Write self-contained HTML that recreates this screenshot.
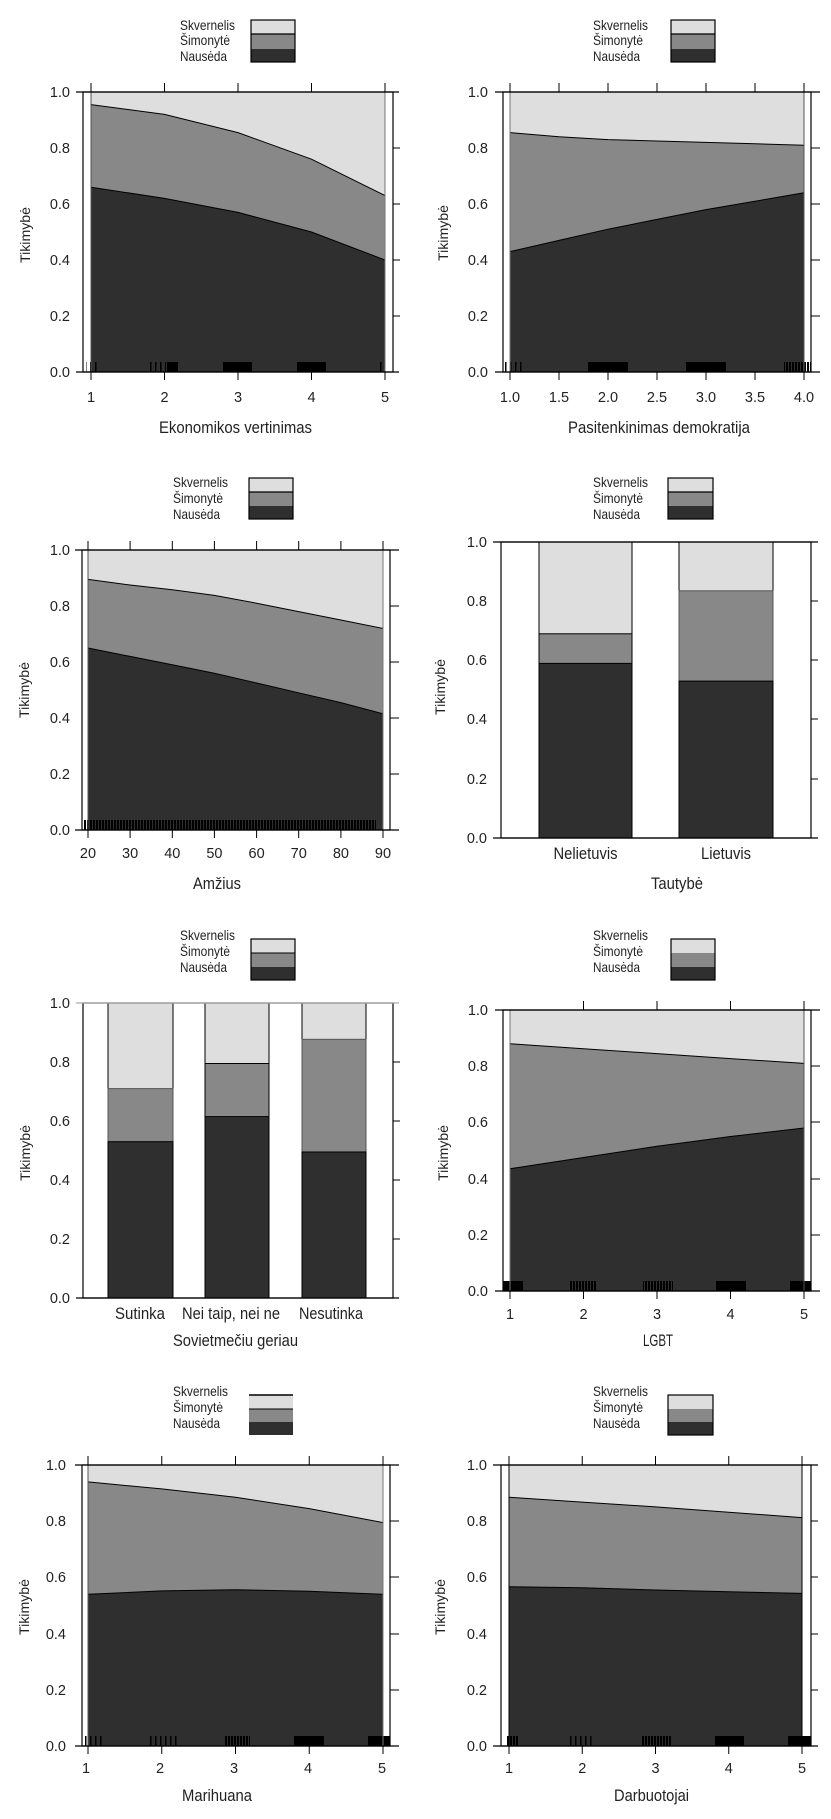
<!DOCTYPE html>
<html><head><meta charset="utf-8"><style>
body{margin:0;background:#fff}
svg{display:block}
.t{font-family:"Liberation Sans",sans-serif;font-size:14.5px;fill:#222}
.c{font-family:"Liberation Sans Narrow","Liberation Sans",sans-serif;fill:#222}
.lg{font-size:14px}
.ax{font-size:17px}
</style></head><body>
<svg width="831" height="1819" viewBox="0 0 831 1819" xmlns="http://www.w3.org/2000/svg">
<defs>
<pattern id="st" width="3" height="10" patternUnits="userSpaceOnUse"><rect width="2" height="10" fill="#000"/></pattern>
<pattern id="st2" width="5" height="10" patternUnits="userSpaceOnUse"><rect width="1.5" height="10" fill="#000"/></pattern>
</defs>

<!-- ===== P1 ===== -->
<g>
<rect x="91" y="92" width="294" height="280" fill="#dedede"/>
<polygon points="91,104.6 164.5,114.4 238,132.6 311.5,159.2 385,195.6 385,372 91,372" fill="#888"/>
<polygon points="91,187.2 164.5,198.4 238,212.4 311.5,232 385,260 385,372 91,372" fill="#2f2f2f"/>
<polyline points="91,104.6 164.5,114.4 238,132.6 311.5,159.2 385,195.6" fill="none" stroke="#000" stroke-width="1"/>
<polyline points="91,187.2 164.5,198.4 238,212.4 311.5,232 385,260" fill="none" stroke="#000" stroke-width="1"/>
<rect x="148" y="362" width="18" height="10" fill="url(#st2)"/><rect x="167" y="362" width="11" height="10" fill="#000"/>
<rect x="223" y="362" width="29" height="10" fill="#000"/><rect x="297" y="362" width="29" height="10" fill="#000"/>
<rect x="86" y="362" width="14" height="10" fill="url(#st2)"/><rect x="380" y="362" width="5" height="10" fill="url(#st2)"/>
<line x1="91" y1="92" x2="91" y2="372" stroke="#555"/><line x1="385" y1="92" x2="385" y2="372" stroke="#777"/>
<rect x="83" y="92" width="310" height="280" fill="none" stroke="#000" stroke-width="1.2"/>
<line x1="76" y1="92" x2="399" y2="92" stroke="#000" stroke-width="1.2"/><line x1="76" y1="372" x2="399" y2="372" stroke="#000" stroke-width="1.2"/>
<path d="M393,148h7M393,204h7M393,260h7M393,316h7M91,92v-9M164.5,92v-9M238,92v-9M311.5,92v-9M385,92v-9M91,372v8M164.5,372v8M238,372v8M311.5,372v8M385,372v8" stroke="#000"/>
<text class="t" text-anchor="end" x="70" y="97">1.0</text><text class="t" text-anchor="end" x="70" y="153">0.8</text><text class="t" text-anchor="end" x="70" y="209">0.6</text><text class="t" text-anchor="end" x="70" y="265">0.4</text><text class="t" text-anchor="end" x="70" y="321">0.2</text><text class="t" text-anchor="end" x="70" y="377">0.0</text>
<text class="t" text-anchor="middle" x="91" y="402">1</text><text class="t" text-anchor="middle" x="164.5" y="402">2</text><text class="t" text-anchor="middle" x="238" y="402">3</text><text class="t" text-anchor="middle" x="311.5" y="402">4</text><text class="t" text-anchor="middle" x="385" y="402">5</text>
<text class="c ax" x="159" y="433" textLength="153" lengthAdjust="spacingAndGlyphs">Ekonomikos vertinimas</text>
<text class="c" font-size="14" transform="translate(30,235) rotate(-90)" text-anchor="middle" textLength="56" lengthAdjust="spacingAndGlyphs">Tikimybė</text>
<text class="c lg" x="180" y="30" textLength="55" lengthAdjust="spacingAndGlyphs">Skvernelis</text><text class="c lg" x="180" y="45" textLength="50" lengthAdjust="spacingAndGlyphs">Šimonytė</text><text class="c lg" x="180" y="61" textLength="47" lengthAdjust="spacingAndGlyphs">Nausėda</text>
<rect x="251" y="20" width="44" height="14" fill="#dedede"/><rect x="251" y="34" width="44" height="15" fill="#888"/><rect x="251" y="49" width="44" height="13" fill="#2f2f2f"/>
<rect x="251" y="20" width="44" height="42" fill="none" stroke="#000" stroke-width="1.2"/><line x1="251" y1="34" x2="295" y2="34" stroke="#000" stroke-width="1.2"/>
</g>

<!-- ===== P2 ===== -->
<g>
<rect x="510" y="92" width="294" height="280" fill="#dedede"/>
<polygon points="510,132.6 559,136.8 608,139.6 657,141 706,142.4 755,143.8 804,145.2 804,372 510,372" fill="#888"/>
<polygon points="510,251.6 559,240.4 608,229.2 657,219.4 706,209.6 755,201.2 804,192.8 804,372 510,372" fill="#2f2f2f"/>
<polyline points="510,132.6 559,136.8 608,139.6 657,141 706,142.4 755,143.8 804,145.2" fill="none" stroke="#000"/>
<polyline points="510,251.6 559,240.4 608,229.2 657,219.4 706,209.6 755,201.2 804,192.8" fill="none" stroke="#000"/>
<rect x="503" y="362" width="22" height="10" fill="url(#st2)"/><rect x="588" y="362" width="40" height="10" fill="#000"/><rect x="686" y="362" width="40" height="10" fill="#000"/><rect x="784" y="362" width="27" height="10" fill="url(#st)"/>
<line x1="510" y1="92" x2="510" y2="372" stroke="#777"/><line x1="804" y1="92" x2="804" y2="372" stroke="#555"/>
<rect x="503" y="92" width="308" height="280" fill="none" stroke="#000" stroke-width="1.2"/>
<line x1="495" y1="92" x2="820" y2="92" stroke="#000" stroke-width="1.2"/><line x1="495" y1="372" x2="820" y2="372" stroke="#000" stroke-width="1.2"/>
<path d="M811,148h9M811,204h9M811,260h9M811,316h9M510,92v-9M559,92v-9M608,92v-9M657,92v-9M706,92v-9M755,92v-9M804,92v-9M510,372v8M559,372v8M608,372v8M657,372v8M706,372v8M755,372v8M804,372v8" stroke="#000"/>
<text class="t" text-anchor="end" x="488" y="97">1.0</text><text class="t" text-anchor="end" x="488" y="153">0.8</text><text class="t" text-anchor="end" x="488" y="209">0.6</text><text class="t" text-anchor="end" x="488" y="265">0.4</text><text class="t" text-anchor="end" x="488" y="321">0.2</text><text class="t" text-anchor="end" x="488" y="377">0.0</text>
<text class="t" text-anchor="middle" x="510" y="402">1.0</text><text class="t" text-anchor="middle" x="559" y="402">1.5</text><text class="t" text-anchor="middle" x="608" y="402">2.0</text><text class="t" text-anchor="middle" x="657" y="402">2.5</text><text class="t" text-anchor="middle" x="706" y="402">3.0</text><text class="t" text-anchor="middle" x="755" y="402">3.5</text><text class="t" text-anchor="middle" x="804" y="402">4.0</text>
<text class="c ax" x="568" y="433" textLength="182" lengthAdjust="spacingAndGlyphs">Pasitenkinimas demokratija</text>
<text class="c" font-size="14" transform="translate(448,233) rotate(-90)" text-anchor="middle" textLength="56" lengthAdjust="spacingAndGlyphs">Tikimybė</text>
<text class="c lg" x="593" y="30" textLength="55" lengthAdjust="spacingAndGlyphs">Skvernelis</text><text class="c lg" x="593" y="45" textLength="50" lengthAdjust="spacingAndGlyphs">Šimonytė</text><text class="c lg" x="593" y="61" textLength="47" lengthAdjust="spacingAndGlyphs">Nausėda</text>
<rect x="671" y="20" width="44" height="14" fill="#dedede"/><rect x="671" y="34" width="44" height="15" fill="#888"/><rect x="671" y="49" width="44" height="13" fill="#2f2f2f"/>
<rect x="671" y="20" width="44" height="42" fill="none" stroke="#000" stroke-width="1.2"/><line x1="671" y1="34" x2="715" y2="34" stroke="#000" stroke-width="1.2"/>
</g>

<!-- ===== P3 ===== -->
<g>
<rect x="88" y="550" width="295" height="280" fill="#dedede"/>
<polygon points="88,579.4 130.1,585 172.3,589.8 214.4,595.4 256.6,603.2 298.7,611.6 340.9,620 383,628.4 383,830 88,830" fill="#888"/>
<polygon points="88,648 130.1,656.4 172.3,664.8 214.4,673.2 256.6,683 298.7,692.8 340.9,702.6 383,713.8 383,830 88,830" fill="#2f2f2f"/>
<polyline points="88,579.4 130.1,585 172.3,589.8 214.4,595.4 256.6,603.2 298.7,611.6 340.9,620 383,628.4" fill="none" stroke="#000"/>
<polyline points="88,648 130.1,656.4 172.3,664.8 214.4,673.2 256.6,683 298.7,692.8 340.9,702.6 383,713.8" fill="none" stroke="#000"/>
<rect x="84" y="820" width="292" height="10" fill="url(#st)"/>
<line x1="88" y1="550" x2="88" y2="830" stroke="#555"/><line x1="383" y1="550" x2="383" y2="830" stroke="#777"/>
<rect x="82" y="550" width="308" height="280" fill="none" stroke="#000" stroke-width="1.2"/>
<line x1="75" y1="550" x2="399" y2="550" stroke="#000" stroke-width="1.2"/><line x1="75" y1="830" x2="399" y2="830" stroke="#000" stroke-width="1.2"/>
<path d="M390,606h9M390,662h9M390,718h9M390,774h9M88,550v-9M130.1,550v-9M172.3,550v-9M214.4,550v-9M256.6,550v-9M298.7,550v-9M340.9,550v-9M383,550v-9M88,830v8M130.1,830v8M172.3,830v8M214.4,830v8M256.6,830v8M298.7,830v8M340.9,830v8M383,830v8" stroke="#000"/>
<text class="t" text-anchor="end" x="70" y="555">1.0</text><text class="t" text-anchor="end" x="70" y="611">0.8</text><text class="t" text-anchor="end" x="70" y="667">0.6</text><text class="t" text-anchor="end" x="70" y="723">0.4</text><text class="t" text-anchor="end" x="70" y="779">0.2</text><text class="t" text-anchor="end" x="70" y="835">0.0</text>
<text class="t" text-anchor="middle" x="88" y="858">20</text><text class="t" text-anchor="middle" x="130.1" y="858">30</text><text class="t" text-anchor="middle" x="172.3" y="858">40</text><text class="t" text-anchor="middle" x="214.4" y="858">50</text><text class="t" text-anchor="middle" x="256.6" y="858">60</text><text class="t" text-anchor="middle" x="298.7" y="858">70</text><text class="t" text-anchor="middle" x="340.9" y="858">80</text><text class="t" text-anchor="middle" x="383" y="858">90</text>
<text class="c ax" x="193" y="889" textLength="48" lengthAdjust="spacingAndGlyphs">Amžius</text>
<text class="c" font-size="14" transform="translate(29,690) rotate(-90)" text-anchor="middle" textLength="56" lengthAdjust="spacingAndGlyphs">Tikimybė</text>
<text class="c lg" x="173" y="487" textLength="55" lengthAdjust="spacingAndGlyphs">Skvernelis</text><text class="c lg" x="173" y="503" textLength="50" lengthAdjust="spacingAndGlyphs">Šimonytė</text><text class="c lg" x="173" y="519" textLength="47" lengthAdjust="spacingAndGlyphs">Nausėda</text>
<rect x="249" y="478" width="44" height="14" fill="#dedede"/><rect x="249" y="492" width="44" height="14" fill="#888"/><rect x="249" y="506" width="44" height="13" fill="#2f2f2f"/>
<rect x="249" y="478" width="44" height="41" fill="none" stroke="#000" stroke-width="1.2"/><line x1="249" y1="492" x2="293" y2="492" stroke="#000" stroke-width="1.2"/>
</g>

<!-- ===== P4 ===== -->
<g>
<rect x="539" y="542" width="93" height="296" fill="#dedede" stroke="#000"/>
<rect x="539" y="633.8" width="93" height="204.2" fill="#888" stroke="#000"/>
<rect x="539" y="663.4" width="93" height="174.6" fill="#2f2f2f" stroke="#000"/>
<rect x="679" y="542" width="94" height="296" fill="#dedede" stroke="#000"/>
<rect x="679" y="590.8" width="94" height="247.2" fill="#888" stroke="#555"/>
<rect x="679" y="681.1" width="94" height="156.9" fill="#2f2f2f" stroke="#000"/>
<rect x="501" y="542" width="310" height="296" fill="none" stroke="#000" stroke-width="1.2"/>
<line x1="493" y1="542" x2="818" y2="542" stroke="#000" stroke-width="1.2"/><line x1="493" y1="838" x2="818" y2="838" stroke="#000" stroke-width="1.2"/>
<path d="M811,601h7M811,660h7M811,719h7M811,779h7" stroke="#000"/>
<text class="t" text-anchor="end" x="487" y="547">1.0</text><text class="t" text-anchor="end" x="487" y="606">0.8</text><text class="t" text-anchor="end" x="487" y="665">0.6</text><text class="t" text-anchor="end" x="487" y="724">0.4</text><text class="t" text-anchor="end" x="487" y="784">0.2</text><text class="t" text-anchor="end" x="487" y="843">0.0</text>
<text class="c ax" x="585.5" y="859" text-anchor="middle" textLength="64" lengthAdjust="spacingAndGlyphs">Nelietuvis</text>
<text class="c ax" x="726" y="859" text-anchor="middle" textLength="50" lengthAdjust="spacingAndGlyphs">Lietuvis</text>
<text class="c ax" x="651" y="889" textLength="52" lengthAdjust="spacingAndGlyphs">Tautybė</text>
<text class="c" font-size="14" transform="translate(445,687) rotate(-90)" text-anchor="middle" textLength="56" lengthAdjust="spacingAndGlyphs">Tikimybė</text>
<text class="c lg" x="593" y="487" textLength="55" lengthAdjust="spacingAndGlyphs">Skvernelis</text><text class="c lg" x="593" y="503" textLength="50" lengthAdjust="spacingAndGlyphs">Šimonytė</text><text class="c lg" x="593" y="519" textLength="47" lengthAdjust="spacingAndGlyphs">Nausėda</text>
<rect x="668" y="478" width="45" height="14" fill="#dedede"/><rect x="668" y="492" width="45" height="14" fill="#888"/><rect x="668" y="506" width="45" height="13" fill="#2f2f2f"/>
<rect x="668" y="478" width="45" height="41" fill="none" stroke="#000" stroke-width="1.2"/><line x1="668" y1="492" x2="713" y2="492" stroke="#000" stroke-width="1.2"/>
</g>

<!-- ===== P5 ===== -->
<g>
<rect x="108" y="1003" width="65" height="295" fill="#dedede" stroke="#000"/>
<rect x="108" y="1088.6" width="65" height="209.4" fill="#888" stroke="#555"/>
<rect x="108" y="1141.7" width="65" height="156.3" fill="#2f2f2f" stroke="#000"/>
<rect x="205" y="1003" width="64" height="295" fill="#dedede" stroke="#000"/>
<rect x="205" y="1063.5" width="64" height="234.5" fill="#888" stroke="#000"/>
<rect x="205" y="1116.6" width="64" height="181.4" fill="#2f2f2f" stroke="#000"/>
<rect x="302" y="1003" width="64" height="295" fill="#dedede" stroke="#000"/>
<rect x="302" y="1039.3" width="64" height="258.7" fill="#888" stroke="#555"/>
<rect x="302" y="1152" width="64" height="146" fill="#2f2f2f" stroke="#000"/>
<rect x="83" y="1003" width="310" height="295" fill="none" stroke="#000" stroke-width="1.2"/>
<line x1="76" y1="1003" x2="399" y2="1003" stroke="#aaa" stroke-width="1.2"/><line x1="76" y1="1298" x2="399" y2="1298" stroke="#000" stroke-width="1.2"/>
<path d="M393,1062h7M393,1121h7M393,1180h7M393,1239h7" stroke="#000"/>
<text class="t" text-anchor="end" x="70" y="1008">1.0</text><text class="t" text-anchor="end" x="70" y="1067">0.8</text><text class="t" text-anchor="end" x="70" y="1126">0.6</text><text class="t" text-anchor="end" x="70" y="1185">0.4</text><text class="t" text-anchor="end" x="70" y="1244">0.2</text><text class="t" text-anchor="end" x="70" y="1303">0.0</text>
<text class="c ax" x="140" y="1319" text-anchor="middle" textLength="50" lengthAdjust="spacingAndGlyphs">Sutinka</text>
<text class="c ax" x="231" y="1319" text-anchor="middle" textLength="98" lengthAdjust="spacingAndGlyphs">Nei taip, nei ne</text>
<text class="c ax" x="331" y="1319" text-anchor="middle" textLength="64" lengthAdjust="spacingAndGlyphs">Nesutinka</text>
<text class="c ax" x="173" y="1346" textLength="125" lengthAdjust="spacingAndGlyphs">Sovietmečiu geriau</text>
<text class="c" font-size="14" transform="translate(30,1153) rotate(-90)" text-anchor="middle" textLength="56" lengthAdjust="spacingAndGlyphs">Tikimybė</text>
<text class="c lg" x="180" y="940" textLength="55" lengthAdjust="spacingAndGlyphs">Skvernelis</text><text class="c lg" x="180" y="956" textLength="50" lengthAdjust="spacingAndGlyphs">Šimonytė</text><text class="c lg" x="180" y="972" textLength="47" lengthAdjust="spacingAndGlyphs">Nausėda</text>
<rect x="251" y="939" width="44" height="14" fill="#dedede"/><rect x="251" y="953" width="44" height="14" fill="#888"/><rect x="251" y="967" width="44" height="13" fill="#2f2f2f"/>
<rect x="251" y="939" width="44" height="41" fill="none" stroke="#000" stroke-width="1.2"/><line x1="251" y1="953" x2="295" y2="953" stroke="#000" stroke-width="1"/>
</g>

<!-- ===== P6 ===== -->
<g>
<rect x="510" y="1010" width="294" height="281" fill="#dedede"/>
<polygon points="510,1043.7 583.5,1048.8 657,1053.6 730.5,1058.6 804,1063.4 804,1291 510,1291" fill="#888"/>
<polygon points="510,1168.8 583.5,1157.5 657,1146.3 730.5,1136.5 804,1128 804,1291 510,1291" fill="#2f2f2f"/>
<polyline points="510,1043.7 583.5,1048.8 657,1053.6 730.5,1058.6 804,1063.4" fill="none" stroke="#000"/>
<polyline points="510,1168.8 583.5,1157.5 657,1146.3 730.5,1136.5 804,1128" fill="none" stroke="#000"/>
<rect x="503" y="1281" width="20" height="10" fill="#000"/><rect x="570" y="1281" width="27" height="10" fill="url(#st)"/><rect x="643" y="1281" width="30" height="10" fill="url(#st)"/><rect x="716" y="1281" width="30" height="10" fill="#000"/><rect x="790" y="1281" width="21" height="10" fill="#000"/>
<line x1="510" y1="1010" x2="510" y2="1291" stroke="#777"/><line x1="804" y1="1010" x2="804" y2="1291" stroke="#555"/>
<rect x="503" y="1010" width="308" height="281" fill="none" stroke="#000" stroke-width="1.2"/>
<line x1="495" y1="1010" x2="820" y2="1010" stroke="#000" stroke-width="1.2"/><line x1="495" y1="1291" x2="820" y2="1291" stroke="#000" stroke-width="1.2"/>
<path d="M811,1066h9M811,1122h9M811,1179h9M811,1235h9M583.5,1010v-9M657,1010v-9M730.5,1010v-9M804,1010v-9M510,1291v8M583.5,1291v8M657,1291v8M730.5,1291v8M804,1291v8" stroke="#000"/>
<text class="t" text-anchor="end" x="488" y="1015">1.0</text><text class="t" text-anchor="end" x="488" y="1071">0.8</text><text class="t" text-anchor="end" x="488" y="1127">0.6</text><text class="t" text-anchor="end" x="488" y="1184">0.4</text><text class="t" text-anchor="end" x="488" y="1240">0.2</text><text class="t" text-anchor="end" x="488" y="1296">0.0</text>
<text class="t" text-anchor="middle" x="510" y="1319">1</text><text class="t" text-anchor="middle" x="583.5" y="1319">2</text><text class="t" text-anchor="middle" x="657" y="1319">3</text><text class="t" text-anchor="middle" x="730.5" y="1319">4</text><text class="t" text-anchor="middle" x="804" y="1319">5</text>
<text class="c ax" x="643" y="1346" textLength="30" lengthAdjust="spacingAndGlyphs">LGBT</text>
<text class="c" font-size="14" transform="translate(448,1153) rotate(-90)" text-anchor="middle" textLength="56" lengthAdjust="spacingAndGlyphs">Tikimybė</text>
<text class="c lg" x="593" y="940" textLength="55" lengthAdjust="spacingAndGlyphs">Skvernelis</text><text class="c lg" x="593" y="956" textLength="50" lengthAdjust="spacingAndGlyphs">Šimonytė</text><text class="c lg" x="593" y="972" textLength="47" lengthAdjust="spacingAndGlyphs">Nausėda</text>
<rect x="671" y="939" width="44" height="14" fill="#dedede"/><rect x="671" y="953" width="44" height="14" fill="#888"/><rect x="671" y="967" width="44" height="13" fill="#2f2f2f"/>
<rect x="671" y="939" width="44" height="41" fill="none" stroke="#000" stroke-width="1.2"/>
</g>

<!-- ===== P7 ===== -->
<g>
<rect x="88" y="1465" width="295" height="281" fill="#dedede"/>
<polygon points="88,1481.9 161.75,1488.9 235.5,1497.3 309.25,1508.6 383,1522.6 383,1746 88,1746" fill="#888"/>
<polygon points="88,1594.3 161.75,1590.9 235.5,1589.8 309.25,1591.2 383,1594.3 383,1746 88,1746" fill="#2f2f2f"/>
<polyline points="88,1481.9 161.75,1488.9 235.5,1497.3 309.25,1508.6 383,1522.6" fill="none" stroke="#000"/>
<polyline points="88,1594.3 161.75,1590.9 235.5,1589.8 309.25,1591.2 383,1594.3" fill="none" stroke="#000"/>
<rect x="84" y="1736" width="19" height="10" fill="url(#st2)"/><rect x="147" y="1736" width="30" height="10" fill="url(#st2)"/><rect x="225" y="1736" width="25" height="10" fill="url(#st)"/><rect x="294" y="1736" width="30" height="10" fill="#000"/><rect x="368" y="1736" width="22" height="10" fill="#000"/>
<line x1="88" y1="1465" x2="88" y2="1746" stroke="#555"/><line x1="383" y1="1465" x2="383" y2="1746" stroke="#777"/>
<rect x="82" y="1465" width="308" height="281" fill="none" stroke="#000" stroke-width="1.2"/>
<line x1="75" y1="1465" x2="399" y2="1465" stroke="#000" stroke-width="1.2"/><line x1="75" y1="1746" x2="399" y2="1746" stroke="#000" stroke-width="1.2"/>
<path d="M390,1521h9M390,1577h9M390,1634h9M390,1690h9M88,1465v-9M161.75,1465v-9M235.5,1465v-9M309.25,1465v-9M383,1465v-9M88,1746v8M161.75,1746v8M235.5,1746v8M309.25,1746v8M383,1746v8" stroke="#000"/>
<text class="t" text-anchor="end" x="66" y="1470">1.0</text><text class="t" text-anchor="end" x="66" y="1526">0.8</text><text class="t" text-anchor="end" x="66" y="1582">0.6</text><text class="t" text-anchor="end" x="66" y="1639">0.4</text><text class="t" text-anchor="end" x="66" y="1695">0.2</text><text class="t" text-anchor="end" x="66" y="1751">0.0</text>
<text class="t" text-anchor="middle" x="86" y="1773">1</text><text class="t" text-anchor="middle" x="160" y="1773">2</text><text class="t" text-anchor="middle" x="234" y="1773">3</text><text class="t" text-anchor="middle" x="308" y="1773">4</text><text class="t" text-anchor="middle" x="382" y="1773">5</text>
<text class="c ax" x="182" y="1801" textLength="70" lengthAdjust="spacingAndGlyphs">Marihuana</text>
<text class="c" font-size="14" transform="translate(29,1607) rotate(-90)" text-anchor="middle" textLength="56" lengthAdjust="spacingAndGlyphs">Tikimybė</text>
<text class="c lg" x="173" y="1396" textLength="55" lengthAdjust="spacingAndGlyphs">Skvernelis</text><text class="c lg" x="173" y="1412" textLength="50" lengthAdjust="spacingAndGlyphs">Šimonytė</text><text class="c lg" x="173" y="1428" textLength="47" lengthAdjust="spacingAndGlyphs">Nausėda</text>
<rect x="249" y="1395" width="44" height="14" fill="#dedede"/><rect x="249" y="1409" width="44" height="13" fill="#888"/><rect x="249" y="1422" width="44" height="13" fill="#2f2f2f"/>
<line x1="249" y1="1395" x2="293" y2="1395" stroke="#000" stroke-width="1.5"/><line x1="249" y1="1409" x2="293" y2="1409" stroke="#000"/>
</g>

<!-- ===== P8 ===== -->
<g>
<rect x="509" y="1465" width="293" height="281" fill="#dedede"/>
<polygon points="509,1497.3 582.25,1502.1 655.5,1506.9 728.75,1512.2 802,1517.6 802,1746 509,1746" fill="#888"/>
<polygon points="509,1586.7 582.25,1587.8 655.5,1590 728.75,1591.7 802,1593.4 802,1746 509,1746" fill="#2f2f2f"/>
<polyline points="509,1497.3 582.25,1502.1 655.5,1506.9 728.75,1512.2 802,1517.6" fill="none" stroke="#000"/>
<polyline points="509,1586.7 582.25,1587.8 655.5,1590 728.75,1591.7 802,1593.4" fill="none" stroke="#000"/>
<rect x="507" y="1736" width="11" height="10" fill="url(#st)"/><rect x="567" y="1736" width="28" height="10" fill="url(#st2)"/><rect x="641" y="1736" width="30" height="10" fill="url(#st)"/><rect x="715" y="1736" width="29" height="10" fill="#000"/><rect x="788" y="1736" width="23" height="10" fill="#000"/>
<line x1="509" y1="1465" x2="509" y2="1746" stroke="#000"/><line x1="802" y1="1465" x2="802" y2="1746" stroke="#000"/>
<rect x="501" y="1465" width="310" height="281" fill="none" stroke="#000" stroke-width="1.2"/>
<line x1="493" y1="1465" x2="818" y2="1465" stroke="#000" stroke-width="1.2"/><line x1="493" y1="1746" x2="818" y2="1746" stroke="#000" stroke-width="1.2"/>
<path d="M811,1521h7M811,1577h7M811,1634h7M811,1690h7M509,1465v-9M582.25,1465v-9M655.5,1465v-9M728.75,1465v-9M802,1465v-9M509,1746v8M582.25,1746v8M655.5,1746v8M728.75,1746v8M802,1746v8" stroke="#000"/>
<text class="t" text-anchor="end" x="487" y="1470">1.0</text><text class="t" text-anchor="end" x="487" y="1526">0.8</text><text class="t" text-anchor="end" x="487" y="1582">0.6</text><text class="t" text-anchor="end" x="487" y="1639">0.4</text><text class="t" text-anchor="end" x="487" y="1695">0.2</text><text class="t" text-anchor="end" x="487" y="1751">0.0</text>
<text class="t" text-anchor="middle" x="509" y="1773">1</text><text class="t" text-anchor="middle" x="582.25" y="1773">2</text><text class="t" text-anchor="middle" x="655.5" y="1773">3</text><text class="t" text-anchor="middle" x="728.75" y="1773">4</text><text class="t" text-anchor="middle" x="802" y="1773">5</text>
<text class="c ax" x="614" y="1801" textLength="75" lengthAdjust="spacingAndGlyphs">Darbuotojai</text>
<text class="c" font-size="14" transform="translate(445,1607) rotate(-90)" text-anchor="middle" textLength="56" lengthAdjust="spacingAndGlyphs">Tikimybė</text>
<text class="c lg" x="593" y="1396" textLength="55" lengthAdjust="spacingAndGlyphs">Skvernelis</text><text class="c lg" x="593" y="1412" textLength="50" lengthAdjust="spacingAndGlyphs">Šimonytė</text><text class="c lg" x="593" y="1428" textLength="47" lengthAdjust="spacingAndGlyphs">Nausėda</text>
<rect x="668" y="1395" width="45" height="14" fill="#dedede"/><rect x="668" y="1409" width="45" height="13" fill="#888"/><rect x="668" y="1422" width="45" height="13" fill="#2f2f2f"/>
<rect x="668" y="1395" width="45" height="40" fill="none" stroke="#000" stroke-width="1.2"/>
</g>
</svg>
</body></html>
